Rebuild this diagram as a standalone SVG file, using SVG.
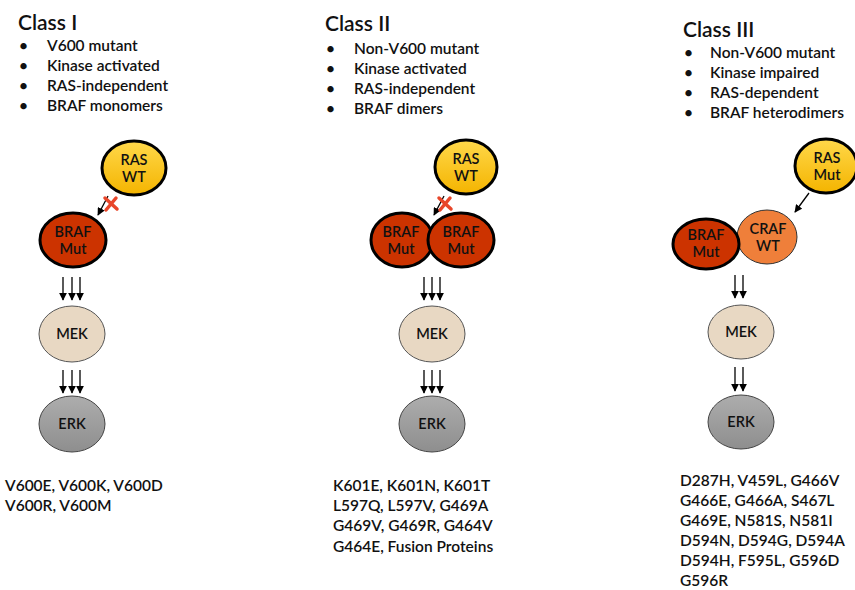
<svg xmlns="http://www.w3.org/2000/svg" width="855" height="590" viewBox="0 0 855 590">
  <defs>
    <linearGradient id="gRas" x1="0" y1="0" x2="0" y2="1">
      <stop offset="0" stop-color="#FFD84A"/>
      <stop offset="1" stop-color="#F4B400"/>
    </linearGradient>
    <linearGradient id="gErk" x1="0" y1="0" x2="0" y2="1">
      <stop offset="0" stop-color="#ADADAD"/>
      <stop offset="1" stop-color="#8E8E8E"/>
    </linearGradient>
    <marker id="ah" viewBox="0 0 10 10" refX="9" refY="5" markerWidth="6" markerHeight="6" orient="auto-start-reverse">
      <path d="M0,0 L10,5 L0,10 z" fill="#000"/>
    </marker>
  </defs>
  <style>
    text { font-family: "Lato", "Open Sans", "Liberation Sans", sans-serif; fill: #111; font-weight: 600; }
    .title { font-size: 21px; }
    .item { font-size: 15.5px; }
    .lbl { font-size: 14.5px; text-anchor: middle; }
    .mut { font-size: 15.5px; }
    .ras { fill: url(#gRas); stroke: #000; stroke-width: 3; }
    .braf { fill: #CC3300; stroke: #000; stroke-width: 3; }
    .craf { fill: #EF7F3A; stroke: #333; stroke-width: 1; }
    .mek { fill: #E8D8C3; stroke: #555; stroke-width: 1; }
    .erk { fill: url(#gErk); stroke: #444; stroke-width: 1; }
    .arr { stroke: #000; stroke-width: 1.3; fill: none; marker-end: url(#ah); }
    .cross { stroke: #E8462A; stroke-width: 3.5; stroke-linecap: round; }
  </style>

  <rect width="855" height="590" fill="#fff"/>

  <!-- Class I heading -->
  <g id="class1-head">
    <text class="title" x="18" y="30">Class I</text>
    <text class="item" x="19" y="51">•</text><text class="item" x="47" y="51">V600 mutant</text>
    <text class="item" x="19" y="71">•</text><text class="item" x="47" y="71">Kinase activated</text>
    <text class="item" x="19" y="91">•</text><text class="item" x="47" y="91">RAS-independent</text>
    <text class="item" x="19" y="111">•</text><text class="item" x="47" y="111">BRAF monomers</text>
  </g>

  <!-- Class II heading -->
  <g id="class2-head">
    <text class="title" x="325" y="31">Class II</text>
    <text class="item" x="326" y="54">•</text><text class="item" x="354" y="54">Non-V600 mutant</text>
    <text class="item" x="326" y="74">•</text><text class="item" x="354" y="74">Kinase activated</text>
    <text class="item" x="326" y="94">•</text><text class="item" x="354" y="94">RAS-independent</text>
    <text class="item" x="326" y="114">•</text><text class="item" x="354" y="114">BRAF dimers</text>
  </g>

  <!-- Class III heading -->
  <g id="class3-head">
    <text class="title" x="683" y="37">Class III</text>
    <text class="item" x="684" y="58">•</text><text class="item" x="710" y="58">Non-V600 mutant</text>
    <text class="item" x="684" y="78">•</text><text class="item" x="710" y="78">Kinase impaired</text>
    <text class="item" x="684" y="98">•</text><text class="item" x="710" y="98">RAS-dependent</text>
    <text class="item" x="684" y="118">•</text><text class="item" x="710" y="118">BRAF heterodimers</text>
  </g>

  <!-- Connectors -->
  <g id="connectors">
    <!-- Class I -->
    <line class="arr" x1="108" y1="196" x2="98" y2="215"/>
    <line class="arr" x1="63" y1="277" x2="63" y2="300"/>
    <line class="arr" x1="72" y1="277" x2="72" y2="300"/>
    <line class="arr" x1="80" y1="277" x2="80" y2="300"/>
    <line class="arr" x1="63" y1="370" x2="63" y2="393"/>
    <line class="arr" x1="72" y1="370" x2="72" y2="393"/>
    <line class="arr" x1="80" y1="370" x2="80" y2="393"/>
    <!-- Class II -->
    <line class="arr" x1="444" y1="196" x2="434" y2="215"/>
    <line class="arr" x1="424" y1="277" x2="424" y2="300"/>
    <line class="arr" x1="432" y1="277" x2="432" y2="300"/>
    <line class="arr" x1="440" y1="277" x2="440" y2="300"/>
    <line class="arr" x1="424" y1="370" x2="424" y2="393"/>
    <line class="arr" x1="432" y1="370" x2="432" y2="393"/>
    <line class="arr" x1="440" y1="370" x2="440" y2="393"/>
    <!-- Class III -->
    <line class="arr" x1="809" y1="193" x2="795" y2="212"/>
    <line class="arr" x1="735" y1="275" x2="735" y2="298"/>
    <line class="arr" x1="743" y1="275" x2="743" y2="298"/>
    <line class="arr" x1="735" y1="367" x2="735" y2="391"/>
    <line class="arr" x1="743" y1="367" x2="743" y2="391"/>
  </g>

  <!-- Block marks on RAS input -->
  <g id="block1">
    <line class="cross" x1="105" y1="198" x2="117" y2="209"/>
    <line class="cross" x1="116" y1="198" x2="106" y2="210"/>
  </g>
  <g id="block2">
    <line class="cross" x1="439" y1="198" x2="451" y2="209"/>
    <line class="cross" x1="450" y1="198" x2="440" y2="210"/>
  </g>

  <!-- Class I nodes -->
  <g id="c1-ras"><ellipse class="ras" cx="134" cy="168" rx="32" ry="27"/><text class="lbl" x="134" y="165">RAS</text><text class="lbl" x="134" y="182">WT</text></g>
  <g id="c1-braf"><ellipse class="braf" cx="73" cy="240" rx="33" ry="27"/><text class="lbl" x="73" y="237">BRAF</text><text class="lbl" x="73" y="254">Mut</text></g>
  <g id="c1-mek"><ellipse class="mek" cx="72" cy="334" rx="33" ry="28"/><text class="lbl" x="72" y="339">MEK</text></g>
  <g id="c1-erk"><ellipse class="erk" cx="72" cy="424" rx="33" ry="28"/><text class="lbl" x="72" y="429">ERK</text></g>

  <!-- Class II nodes -->
  <g id="c2-ras"><ellipse class="ras" cx="466" cy="167" rx="31" ry="27"/><text class="lbl" x="466" y="164">RAS</text><text class="lbl" x="466" y="181">WT</text></g>
  <g id="c2-braf1"><ellipse class="braf" cx="402" cy="240" rx="31" ry="27"/><text class="lbl" x="401" y="237">BRAF</text><text class="lbl" x="401" y="254">Mut</text></g>
  <g id="c2-braf2"><ellipse class="braf" cx="461" cy="240" rx="33" ry="27"/><text class="lbl" x="461" y="237">BRAF</text><text class="lbl" x="461" y="254">Mut</text></g>
  <g id="c2-mek"><ellipse class="mek" cx="432" cy="334" rx="33" ry="28"/><text class="lbl" x="432" y="339">MEK</text></g>
  <g id="c2-erk"><ellipse class="erk" cx="432" cy="424" rx="33" ry="28"/><text class="lbl" x="432" y="429">ERK</text></g>

  <!-- Class III nodes -->
  <g id="c3-ras"><ellipse class="ras" cx="826" cy="166" rx="31" ry="27"/><text class="lbl" x="827" y="163">RAS</text><text class="lbl" x="827" y="180">Mut</text></g>
  <g id="c3-craf"><ellipse class="craf" cx="767" cy="237" rx="30" ry="27"/><text class="lbl" x="768" y="234">CRAF</text><text class="lbl" x="768" y="251">WT</text></g>
  <g id="c3-braf"><ellipse class="braf" cx="706" cy="244" rx="33" ry="25"/><text class="lbl" x="706" y="240">BRAF</text><text class="lbl" x="706" y="257">Mut</text></g>
  <g id="c3-mek"><ellipse class="mek" cx="741" cy="332" rx="33" ry="27"/><text class="lbl" x="741" y="337">MEK</text></g>
  <g id="c3-erk"><ellipse class="erk" cx="741" cy="422" rx="33" ry="27"/><text class="lbl" x="741" y="427">ERK</text></g>

  <!-- Mutation lists -->
  <g id="c1-mutations">
    <text class="mut" x="5" y="491">V600E, V600K, V600D</text>
    <text class="mut" x="5" y="511">V600R, V600M</text>
  </g>
  <g id="c2-mutations">
    <text class="mut" x="333" y="491">K601E, K601N, K601T</text>
    <text class="mut" x="333" y="511">L597Q, L597V, G469A</text>
    <text class="mut" x="333" y="531">G469V, G469R, G464V</text>
    <text class="mut" x="333" y="552">G464E, Fusion Proteins</text>
  </g>
  <g id="c3-mutations">
    <text class="mut" x="680" y="486">D287H, V459L, G466V</text>
    <text class="mut" x="680" y="506">G466E, G466A, S467L</text>
    <text class="mut" x="680" y="526">G469E, N581S, N581I</text>
    <text class="mut" x="680" y="546">D594N, D594G, D594A</text>
    <text class="mut" x="680" y="566">D594H, F595L, G596D</text>
    <text class="mut" x="680" y="586">G596R</text>
  </g>
</svg>
